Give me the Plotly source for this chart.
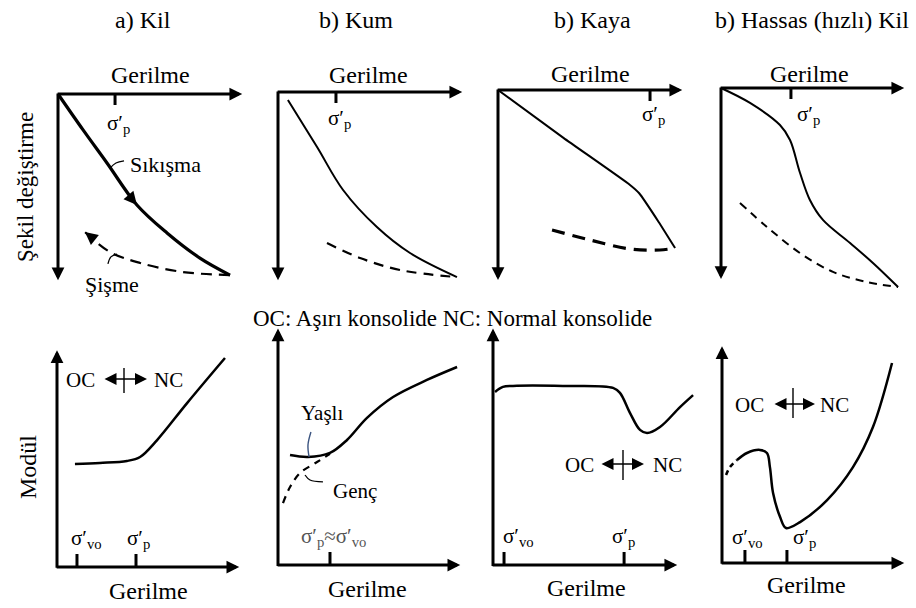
import plotly.graph_objects as go

FIG_W, FIG_H = 916, 608
FONT = "Liberation Serif, Times New Roman, serif"

# ---- text ----
titles = ["a) Kil", "b) Kum", "b) Kaya", "b) Hassas (hızlı) Kil"]
x_label = "Gerilme"
y_label_top = "Şekil değiştirme"
y_label_bottom = "Modül"
legend_text = "OC: Aşırı konsolide NC: Normal konsolide"

# ---- upper row: strain vs stress (values in % of axis length) ----
kil_load_x = [0, 13.4, 26.2, 42.2, 58.3, 75.9, 92.0]
kil_load_y = [0, 19.0, 36.5, 58.7, 73.5, 86.8, 95.8]
kil_swell_x = [92.0, 66.8, 43.9, 27.8, 14.4]
kil_swell_y = [95.8, 94.2, 89.4, 83.6, 73.0]

kum_load_x = [5.3, 20.9, 34.8, 52.9, 70.6, 95.7]
kum_load_y = [4.2, 28.8, 51.3, 70.7, 84.3, 96.9]
kum_swell_x = [26.2, 43.9, 65.2, 95.7]
kum_swell_y = [79.1, 86.9, 93.2, 96.9]

kaya_load_x = [0, 35.0, 70.6, 75.5, 86.0, 94.7]
kaya_load_y = [0, 24.8, 49.2, 53.5, 68.5, 81.9]
kaya_swell_x = [28.9, 49.2, 70.6, 86.6, 94.7]
kaya_swell_y = [72.5, 77.7, 82.4, 82.9, 81.9]

hassas_load_x = [0, 15.6, 31.7, 37.1, 42.5, 47.8, 54.8, 69.4, 81.7, 95.2]
hassas_load_y = [0, 7.7, 19.1, 26.8, 43.8, 57.7, 68.0, 79.9, 90.2, 102.6]
hassas_swell_x = [10.2, 24.7, 42.5, 60.2, 78.5, 95.2]
hassas_swell_y = [59.3, 71.6, 85.1, 94.8, 100.0, 102.6]

# preconsolidation stress position on each upper axis
top_sigma_p = [30.5, 31.0, 81.3, 37.6]

# ---- lower row: modulus vs stress (values in % of axis length) ----
kil_mod_x = [9.7, 23.2, 37.8, 44.9, 54.1, 70.3, 90.8]
kil_mod_y = [46.8, 47.3, 48.2, 50.0, 57.7, 74.5, 95.0]

kum_old_x = [6.5, 16.2, 28.1, 37.3, 48.1, 62.2, 80.5, 96.8]
kum_old_y = [45.8, 45.0, 46.7, 52.1, 61.3, 70.0, 77.1, 82.5]
kum_young_x = [2.7, 6.5, 11.9, 21.1, 28.1]
kum_young_y = [25.8, 32.5, 38.3, 42.9, 46.3]

kaya_mod_x = [1.1, 5.3, 10.7, 37.4, 64.2, 67.9, 73.3, 78.6, 82.4, 89.3, 100.0, 107.0]
kaya_mod_y = [72.1, 74.2, 74.6, 74.6, 73.8, 71.7, 63.3, 56.3, 55.0, 57.5, 65.8, 70.8]

hassas_mod_x = [8.1, 13.5, 20.5, 24.3, 25.9, 27.6, 31.4, 34.6, 42.2, 56.8, 70.8, 81.6, 91.9]
hassas_mod_y = [46.8, 50.0, 51.4, 50.0, 43.6, 31.8, 20.9, 15.9, 18.6, 28.6, 43.6, 61.8, 90.9]
hassas_mod_start_x = [2.2, 4.3, 8.1]
hassas_mod_start_y = [40.0, 43.6, 46.8]

# stress ticks on each lower axis: (sigma'_vo, sigma'_p)
bottom_ticks = [[10.8, 42.7], [28.1], [5.9, 70.1], [12.4, 35.1]]

# short leader lines for the curve names
sikisma_lead_x, sikisma_lead_y = [27.8, 31.0, 35.3], [39.2, 36.5, 35.4]
sisme_lead_x, sisme_lead_y = [31.6, 28.3, 26.7], [84.7, 86.2, 89.9]
yasli_lead_x, yasli_lead_y = [17.8, 16.2, 16.8], [55.4, 50.0, 45.0]
genc_lead_x, genc_lead_y = [14.6, 17.3, 24.3], [37.5, 35.4, 34.6]

# ---- panel frames: axis origin and arrow lengths in pixels ----
panels = [
    dict(ox=58, oy=94, w=187, h=189, down=True),
    dict(ox=278, oy=92, w=187, h=191, down=True),
    dict(ox=498, oy=90, w=187, h=193, down=True),
    dict(ox=721, oy=88, w=186, h=194, down=True),
    dict(ox=57, oy=567, w=185, h=220, down=False),
    dict(ox=278, oy=565, w=185, h=240, down=False),
    dict(ox=493, oy=565, w=187, h=240, down=False),
    dict(ox=722, oy=563, w=185, h=220, down=False),
]


def px(x, y):
    return x / FIG_W, 1 - y / FIG_H


fig = go.Figure()
layout = dict(
    width=FIG_W, height=FIG_H, margin=dict(l=0, r=0, t=0, b=0),
    paper_bgcolor="white", plot_bgcolor="rgba(0,0,0,0)",
    showlegend=False, font=dict(family=FONT, color="black", size=22),
)
annotations = []
shapes = []
axis_ids = []

for i, p in enumerate(panels, start=1):
    s = "" if i == 1 else str(i)
    pl, pr, pt, pb = 8, min(16, FIG_W - (p["ox"] + p["w"])), 8, 10
    left, right = p["ox"] - pl, p["ox"] + p["w"] + pr
    xr = [-pl / p["w"] * 100, (p["w"] + pr) / p["w"] * 100]
    if p["down"]:
        top, bot = p["oy"] - pt, p["oy"] + p["h"] + pb
        yr = [(p["h"] + pb) / p["h"] * 100, -pt / p["h"] * 100]
    else:
        top, bot = p["oy"] - p["h"] - pt, p["oy"] + pb
        yr = [-pb / p["h"] * 100, (p["h"] + pt) / p["h"] * 100]
    layout["xaxis" + s] = dict(domain=[left / FIG_W, right / FIG_W], range=xr,
                               visible=False, fixedrange=True, anchor="y" + s)
    layout["yaxis" + s] = dict(domain=[1 - bot / FIG_H, 1 - top / FIG_H], range=yr,
                               visible=False, fixedrange=True, anchor="x" + s)
    xa, ya = "x" + s, "y" + s
    axis_ids.append((xa, ya))
    # axis arrows
    for hx, hy, tx, ty in [(98.5, 0, -1, 0), (0, 98.5, 0, -1)]:
        annotations.append(dict(x=hx, y=hy, ax=tx, ay=ty, xref=xa, yref=ya,
                                axref=xa, ayref=ya, text="", showarrow=True,
                                arrowhead=2, arrowsize=0.85, arrowwidth=3,
                                arrowcolor="black"))


def line(i, xs, ys, width=2.2, dash=None, color="black", smooth=1.0):
    xa, ya = axis_ids[i]
    fig.add_trace(go.Scatter(
        x=xs, y=ys, xaxis=xa, yaxis=ya, mode="lines", hoverinfo="skip",
        line=dict(color=color, width=width, dash=dash, shape="spline",
                  smoothing=smooth)))


# upper row curves
line(0, kil_load_x, kil_load_y, width=3.2)
line(0, kil_swell_x, kil_swell_y, width=2.2, dash="11px,7px")
line(1, kum_load_x, kum_load_y, width=2)
line(1, kum_swell_x, kum_swell_y, width=2.2, dash="10px,7px")
line(2, kaya_load_x, kaya_load_y, width=2, smooth=0.5)
line(2, kaya_swell_x, kaya_swell_y, width=3.2, dash="13px,8px")
line(3, hassas_load_x, hassas_load_y, width=2)
line(3, hassas_swell_x, hassas_swell_y, width=2, dash="8px,6px")

# lower row curves
line(4, kil_mod_x, kil_mod_y, width=2.5)
line(5, kum_old_x, kum_old_y, width=2.5)
line(5, kum_young_x, kum_young_y, width=2.2, dash="7px,6px")
line(6, kaya_mod_x, kaya_mod_y, width=2.5)
line(7, hassas_mod_x, hassas_mod_y, width=2.5)
line(7, hassas_mod_start_x, hassas_mod_start_y, width=2.5, dash="5px,4px")

# leader lines
line(0, sikisma_lead_x, sikisma_lead_y, width=1.3)
line(0, sisme_lead_x, sisme_lead_y, width=1.3)
line(5, yasli_lead_x, yasli_lead_y, width=1.4, color="#3b5480")
line(5, genc_lead_x, genc_lead_y, width=1.3)

# direction arrows on the clay loading / swelling paths
xa, ya = axis_ids[0]
annotations.append(dict(x=kil_load_x[3], y=kil_load_y[3], xref=xa, yref=ya,
                        ax=-6.5, ay=-7.6, text="", showarrow=True, arrowhead=2,
                        arrowsize=1.3, arrowwidth=2, arrowcolor="black"))
annotations.append(dict(x=kil_swell_x[-1], y=kil_swell_y[-1], xref=xa, yref=ya,
                        ax=8, ay=6.4, text="", showarrow=True, arrowhead=2,
                        arrowsize=1.7, arrowwidth=1.5, arrowcolor="black"))

# stress ticks
for i in range(4):
    xa, ya = axis_ids[i]
    tl = 11 / panels[i]["h"] * 100
    shapes.append(dict(type="line", xref=xa, yref=ya, x0=top_sigma_p[i],
                       x1=top_sigma_p[i], y0=0, y1=tl,
                       line=dict(color="black", width=3)))
for i, ticks in enumerate(bottom_ticks):
    xa, ya = axis_ids[4 + i]
    tl = 13 / panels[4 + i]["h"] * 100
    for t in ticks:
        shapes.append(dict(type="line", xref=xa, yref=ya, x0=t, x1=t, y0=0,
                           y1=tl, line=dict(color="black", width=3)))


def text(x, y, s, size=22, angle=0, color="black", xanchor="center"):
    X, Y = px(x, y)
    annotations.append(dict(x=X, y=Y, xref="paper", yref="paper", text=s,
                            showarrow=False, textangle=angle, xanchor=xanchor,
                            yanchor="middle",
                            font=dict(family=FONT, size=size, color=color)))


SP = "σ′<sub>p</sub>"
SVO = "σ′<sub>vo</sub>"

# titles
for t, cx in zip(titles, [143, 356, 592, 812]):
    text(cx, 20, t, size=24)

# axis names
for cx, cy in [(150, 75), (368, 75), (590, 74), (809, 74),
               (148, 591), (367, 589), (586, 588), (806, 585)]:
    text(cx, cy, x_label, size=24)
text(25, 187, y_label_top, size=23, angle=-90)
text(28, 467, y_label_bottom, size=24, angle=-90)
text(452, 318, legend_text, size=23)

# sigma labels, upper row
for cx, cy in [(118, 124), (339, 119), (653, 115), (808, 115)]:
    text(cx, cy, SP, size=21)
# sigma labels, lower row
text(86, 539, SVO, size=21)
text(138, 539, SP, size=21)
text(333, 537, SP + "≈" + SVO, size=21, color="#555555")
text(518, 537, SVO, size=21)
text(623, 537, SP, size=21)
text(747, 538, SVO, size=21)
text(804, 538, SP, size=21)

# curve names
text(128, 165, "Sıkışma", size=22, xanchor="left")
text(112, 284, "Şişme", size=22)
text(322, 413, "Yaşlı", size=21)
text(355, 491, "Genç", size=21)

# OC <-> NC markers
for oc_x, ax0, ax1, nc_x, cy, bar_x, bar_y0, bar_y1 in [
        (80, 103, 147, 168, 380, 124, 368, 393),
        (579, 600, 644, 667, 465, 623, 450, 480),
        (749, 773, 815, 834, 405, 793, 388, 418)]:
    text(oc_x, cy, "OC", size=21)
    text(nc_x, cy, "NC", size=21)
    X, Y = px(ax1, cy - 1)
    annotations.append(dict(x=X, y=Y, xref="paper", yref="paper", ax=-(ax1 - ax0),
                            ay=0, text="", showarrow=True, arrowhead=2,
                            arrowside="end+start", arrowsize=1.5, arrowwidth=1.6,
                            arrowcolor="black"))
    X0, Y0 = px(bar_x, bar_y0)
    X1, Y1 = px(bar_x, bar_y1)
    shapes.append(dict(type="line", xref="paper", yref="paper", x0=X0, x1=X1,
                       y0=Y0, y1=Y1, line=dict(color="black", width=1.4)))

layout["annotations"] = annotations
layout["shapes"] = shapes
fig.update_layout(**layout)
fig.write_html("out.html")
